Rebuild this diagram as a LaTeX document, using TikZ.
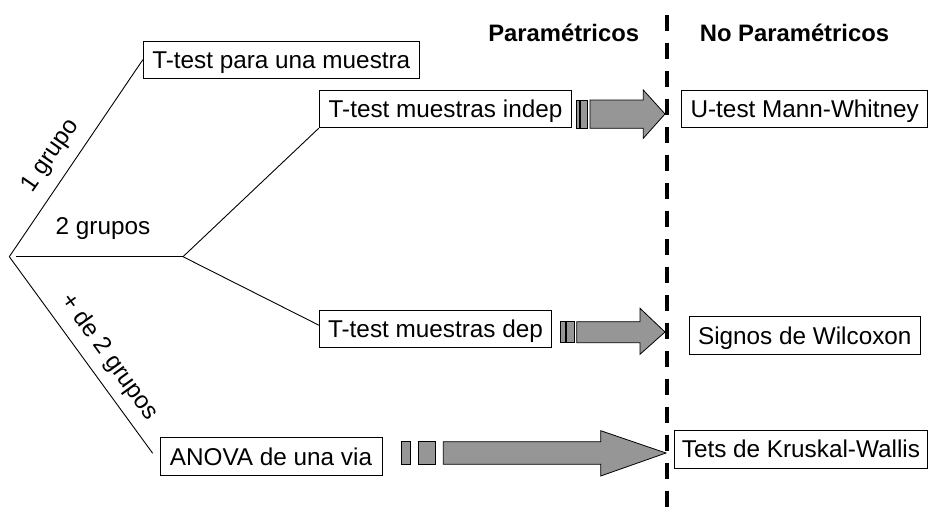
\documentclass[tikz,border=0pt]{standalone}
\usepackage{fontspec}
\setmainfont{Liberation Sans}
\usetikzlibrary{calc}
\definecolor{arrgray}{RGB}{150,150,150}
\begin{document}
\begin{tikzpicture}[x=1pt,y=-1pt,
  every node/.style={font=\fontsize{24.3}{29}\selectfont},
  box/.style={draw=black,line width=0.9pt,fill=white,inner sep=0pt,text height=17.4pt,text depth=0pt},
  link/.style={draw=black,line width=0.9pt},
  lbl/.style={inner sep=0pt},
  fatarrow/.style={draw=black,line width=0.8pt,fill=arrgray},
  divider/.style={draw=black,line width=3.3pt,dash pattern=on 16.3pt off 11.68pt}]
\useasboundingbox (0,0) rectangle (929,514);
% boxes
\node[box,minimum width=276pt,minimum height=37.3pt] (A) at (281.3,59.7) {T-test para una muestra};
\node[box,minimum width=252.4pt,minimum height=37pt] (B) at (445.5,109.2) {T-test muestras indep};
\node[box,minimum width=232.4pt,minimum height=37.3pt] (C) at (435.5,328.7) {T-test muestras dep};
\node[box,minimum width=222pt,minimum height=38.4pt] (D) at (271,456.5) {ANOVA de una via};
\node[box,minimum width=246pt,minimum height=37.7pt] (E) at (804.7,108.9) {U-test Mann-Whitney};
\node[box,minimum width=231pt,minimum height=37.6pt] (F) at (804.8,335.5) {Signos de Wilcoxon};
\node[box,minimum width=253.2pt,minimum height=38pt] (G) at (800.9,449) {Tets de Kruskal-Wallis};
% headers
\node[lbl,anchor=base,font=\fontsize{23.8}{28}\selectfont\bfseries] (P) at (563.7,41.7) {Paramétricos};
\node[lbl,anchor=base,font=\fontsize{23.8}{28}\selectfont\bfseries] (NP) at (794.5,41.7) {No Paramétricos};
% tree
\coordinate (R) at (9.3,256.7);
\coordinate (H) at (16,256.7);
\coordinate (M) at (183,256.7);
\coordinate (Dend) at (152.7,453.3);
\draw[link] (R) -- (A.west);
\draw[link] (H) -- (M);
\draw[link] (R) -- (Dend);
\draw[link] (M) -- (B.south west);
\draw[link] (M) -- ($(C.west)+(0,-3.5)$);
% branch labels
\node[lbl,rotate=55.3] (L1) at (50.7,156) {1 grupo};
\node[lbl] (L2) at (103,229) {2 grupos};
\node[lbl,rotate=-54] (L3) at (109,357.3) {+ de 2 grupos};
% divider
\coordinate (Dtop) at (667,15);
\coordinate (Dbot) at (667,507.3);
\draw[divider] (Dtop) -- (Dbot);
% striped arrows
\draw[fatarrow] (576,100) rectangle (579.3,128.3);
\draw[fatarrow] (580.7,100) rectangle (587.7,128.3);
\draw[fatarrow] (590,100) -- (643.3,100) -- (643.3,90) -- (665,114) -- (643.3,138.3) -- (643.3,128.3) -- (590,128.3) -- cycle;
\draw[fatarrow] (560,321.7) rectangle (565,342.7);
\draw[fatarrow] (566.7,321.7) rectangle (574,342.7);
\draw[fatarrow] (576.7,321.7) -- (640,321.7) -- (640,308.3) -- (665,332) -- (640,354.3) -- (640,342.7) -- (576.7,342.7) -- cycle;
\draw[fatarrow] (401.7,441.7) rectangle (410.7,464.3);
\draw[fatarrow] (418.3,441.7) rectangle (435.7,464.3);
\draw[fatarrow] (443.3,441.7) -- (600.7,441.7) -- (600.7,430.7) -- (666,453) -- (600.7,476) -- (600.7,464.3) -- (443.3,464.3) -- cycle;
\end{tikzpicture}
\end{document}
